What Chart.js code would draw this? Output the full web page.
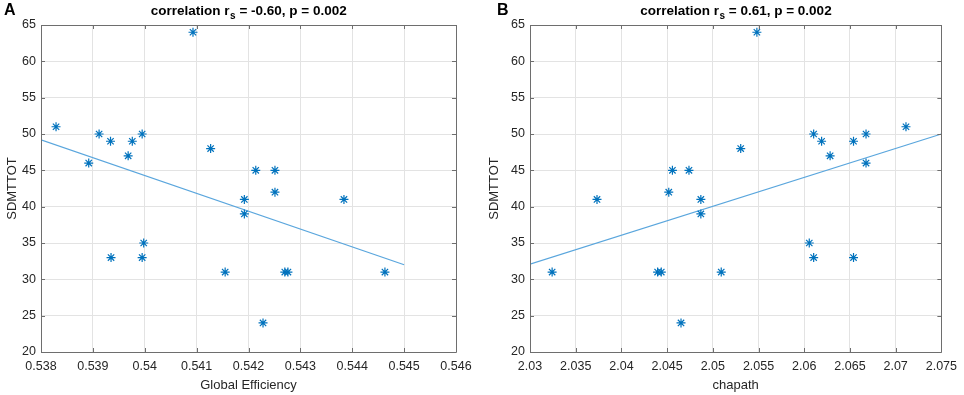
<!DOCTYPE html>
<html>
<head>
<meta charset="utf-8">
<script src="https://cdn.jsdelivr.net/npm/chart.js@4.4.1/dist/chart.umd.min.js"></script>
<style>
  html, body { margin: 0; padding: 0; background: #fff; }
  #wrap { position: relative; width: 964px; height: 395px; }
  canvas { position: absolute; top: 0; }
</style>
</head>
<body>
<div id="wrap">
  <canvas id="cA" width="482" height="395" style="left:0px"></canvas>
  <canvas id="cB" width="482" height="395" style="left:482px"></canvas>
</div>
<script>
// ---- Data ----
const globalEfficiency = [0.53829, 0.53892, 0.53912, 0.53934, 0.53968, 0.53976, 0.53995, 0.54093, 0.54127, 0.54214, 0.54251, 0.54251, 0.54192, 0.54384, 0.54192, 0.53935, 0.53995, 0.53998, 0.54155, 0.54270, 0.54276, 0.54463, 0.54228];
const sdmtA = [51, 46, 50, 49, 47, 49, 50, 64, 48, 45, 45, 42, 41, 41, 39, 33, 33, 35, 31, 31, 31, 31, 24];

const chapath = [2.03733, 2.04558, 2.04739, 2.04518, 2.04869, 2.05482, 2.05305, 2.06103, 2.06190, 2.06283, 2.06539, 2.06676, 2.06676, 2.07113, 2.03242, 2.04869, 2.04396, 2.04436, 2.05092, 2.04652, 2.06055, 2.06103, 2.06539];
const sdmtB = [41, 45, 45, 42, 41, 64, 48, 50, 49, 47, 49, 50, 46, 51, 31, 39, 31, 31, 31, 24, 35, 33, 33];

const fitAx = [0.538, 0.545];
const fitAy = [49.2, 32.0];
const fitBx = [2.03, 2.075];
const fitBy = [32.1, 50.0];

const yTickValues = [20, 25, 30, 35, 40, 45, 50, 55, 60, 65];
const yTickLabels = ['20', '25', '30', '35', '40', '45', '50', '55', '60', '65'];
const xTickValuesA = [0.538, 0.539, 0.540, 0.541, 0.542, 0.543, 0.544, 0.545, 0.546];
const xTickLabelsA = ['0.538', '0.539', '0.54', '0.541', '0.542', '0.543', '0.544', '0.545', '0.546'];
const xTickValuesB = [2.03, 2.035, 2.04, 2.045, 2.05, 2.055, 2.06, 2.065, 2.07, 2.075];
const xTickLabelsB = ['2.03', '2.035', '2.04', '2.045', '2.05', '2.055', '2.06', '2.065', '2.07', '2.075'];

const titleA = { letter: 'A', pre: 'correlation r', sub: 's', post: ' = -0.60, p = 0.002' };
const titleB = { letter: 'B', pre: 'correlation r', sub: 's', post: ' = 0.61, p = 0.002' };

// ---- Styling ----
const FONT = 'Arial, "Liberation Sans", Helvetica, sans-serif';
const MARK = '#0072BD';
const FITC = '#5aa6dd';
const AXC = '#262626';

const boxPlugin = {
  id: 'matlabBox',
  afterDraw(chart, args, opts) {
    const ctx = chart.ctx;
    const a = chart.chartArea;
    const xs = chart.scales.x, ys = chart.scales.y;
    ctx.save();
    ctx.strokeStyle = '#6e6e6e';
    ctx.lineWidth = 1;
    ctx.beginPath();
    ctx.rect(Math.round(a.left) + 0.5, Math.round(a.top) + 0.5, Math.round(a.right - a.left), Math.round(a.bottom - a.top));
    ctx.stroke();
    // inward ticks
    const tl = 4;
    ctx.beginPath();
    xs.ticks.forEach(t => {
      const px = Math.round(xs.getPixelForValue(t.value)) + 0.5;
      ctx.moveTo(px, a.bottom); ctx.lineTo(px, a.bottom - tl);
      ctx.moveTo(px, a.top); ctx.lineTo(px, a.top + tl);
    });
    ys.ticks.forEach(t => {
      const py = Math.round(ys.getPixelForValue(t.value)) + 0.5;
      ctx.moveTo(a.left, py); ctx.lineTo(a.left + tl, py);
      ctx.moveTo(a.right, py); ctx.lineTo(a.right - tl, py);
    });
    ctx.stroke();
    // title with subscript
    const t = opts.title;
    const cx = (a.left + a.right) / 2;
    ctx.fillStyle = '#000';
    ctx.textBaseline = 'alphabetic';
    const big = 'bold 13.5px ' + FONT, small = 'bold 10px ' + FONT;
    ctx.font = big; const w1 = ctx.measureText(t.pre).width; const w3 = ctx.measureText(t.post).width;
    ctx.font = small; const w2 = ctx.measureText(t.sub).width;
    let x0 = cx - (w1 + w2 + w3) / 2;
    const base = 15;
    ctx.textAlign = 'left';
    ctx.font = big; ctx.fillText(t.pre, x0, base);
    ctx.font = small; ctx.fillText(t.sub, x0 + w1 + 0.5, base + 4);
    ctx.font = big; ctx.fillText(t.post, x0 + w1 + w2 + 0.5, base);
    // panel letter
    ctx.font = 'bold 16px ' + FONT;
    ctx.fillText(t.letter, opts.letterX, 15);
    ctx.restore();
  }
};

function makeChart(id, xs, ys, fx, fy, xVals, xLabs, xTitle, yWidth, padRight, title, letterX) {
  return new Chart(document.getElementById(id), {
    type: 'scatter',
    data: {
      datasets: [
        {
          data: xs.map((v, i) => ({ x: v, y: ys[i] })),
          pointStyle: 'star',
          radius: 4.5,
          borderColor: MARK,
          backgroundColor: MARK,
          borderWidth: 1.2,
          showLine: false,
          order: 1
        },
        {
          data: fx.map((v, i) => ({ x: v, y: fy[i] })),
          showLine: true,
          pointRadius: 0,
          borderColor: FITC,
          borderWidth: 1.2,
          fill: false,
          order: 2
        }
      ]
    },
    options: {
      responsive: false,
      devicePixelRatio: 1,
      animation: false,
      events: [],
      layout: { padding: { left: 0, right: padRight, top: 25, bottom: 0 } },
      plugins: {
        legend: { display: false },
        tooltip: { enabled: false },
        matlabBox: { title: title, letterX: letterX }
      },
      scales: {
        x: {
          type: 'linear',
          min: xVals[0], max: xVals[xVals.length - 1],
          afterBuildTicks: s => { s.ticks = xVals.map(v => ({ value: v })); },
          afterFit: s => { s.height = 43; },
          border: { display: false },
          grid: { color: '#e3e3e3', lineWidth: 1, drawTicks: false },
          ticks: {
            autoSkip: false, maxRotation: 0, padding: 7,
            color: AXC, font: { family: FONT, size: 12.5 },
            callback: (v, i) => xLabs[i]
          },
          title: { display: true, text: xTitle, color: AXC, font: { family: FONT, size: 13 }, padding: { top: 2, bottom: 2 } }
        },
        y: {
          type: 'linear',
          min: 20, max: 65,
          afterBuildTicks: s => { s.ticks = yTickValues.map(v => ({ value: v })); },
          afterFit: s => { s.width = yWidth; },
          border: { display: false },
          grid: { color: '#e3e3e3', lineWidth: 1, drawTicks: false },
          ticks: {
            autoSkip: false, padding: 5,
            color: AXC, font: { family: FONT, size: 12.5 },
            callback: (v, i) => yTickLabels[i]
          },
          title: { display: true, text: 'SDMTTOT', color: AXC, font: { family: FONT, size: 13 }, padding: { top: 5, bottom: 0 } }
        }
      }
    },
    plugins: [boxPlugin]
  });
}

makeChart('cA', globalEfficiency, sdmtA, fitAx, fitAy, xTickValuesA, xTickLabelsA, 'Global Efficiency', 41, 26, titleA, 4);
makeChart('cB', chapath, sdmtB, fitBx, fitBy, xTickValuesB, xTickLabelsB, 'chapath', 48, 18, titleB, 15);
</script>
</body>
</html>
